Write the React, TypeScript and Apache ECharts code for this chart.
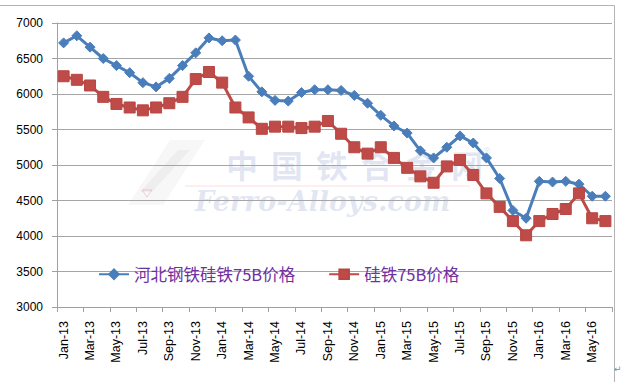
import React, { useEffect, useRef } from "react";
import * as echarts from "echarts";

const categories = [
  "Jan-13", "Feb-13", "Mar-13", "Apr-13", "May-13", "Jun-13", "Jul-13", "Aug-13", "Sep-13", "Oct-13", "Nov-13", "Dec-13",
  "Jan-14", "Feb-14", "Mar-14", "Apr-14", "May-14", "Jun-14", "Jul-14", "Aug-14", "Sep-14", "Oct-14", "Nov-14", "Dec-14",
  "Jan-15", "Feb-15", "Mar-15", "Apr-15", "May-15", "Jun-15", "Jul-15", "Aug-15", "Sep-15", "Oct-15", "Nov-15", "Dec-15",
  "Jan-16", "Feb-16", "Mar-16", "Apr-16", "May-16", "Jun-16",
];

const hebeiPrice = [
  6720, 6820, 6660, 6500, 6400, 6300, 6160, 6100, 6220, 6400, 6580, 6790,
  6750, 6760, 6250, 6030, 5910, 5900, 6020, 6060, 6060, 6050, 5980, 5870,
  5700, 5550, 5450, 5200, 5100, 5250, 5410, 5310, 5100, 4810, 4360, 4250,
  4770, 4760, 4770, 4730, 4560, 4560,
];

const siFePrice = [
  6250, 6200, 6120, 5960, 5860, 5810, 5770, 5810, 5870, 5960, 6210, 6310,
  6160, 5810, 5670, 5510, 5540, 5540, 5520, 5540, 5620, 5440, 5250, 5160,
  5250, 5100, 4960, 4840, 4750, 4980, 5070, 4860, 4600, 4410, 4210, 4010,
  4210, 4310, 4380, 4600, 4250, 4210,
];

const seriesNames = ["河北钢铁硅铁75B价格", "硅铁75B价格"];
const yMin = 3000;
const yMax = 7000;
const yInterval = 500;

const watermarkChars = ["中", "国", "铁", "合", "金", "网"];

export default function App() {
  const ref = useRef<HTMLDivElement>(null);

  useEffect(() => {
    if (!ref.current) return;
    const chart = echarts.init(ref.current, undefined, { renderer: "svg" });
    const wmColor = "rgba(120,145,200,0.22)";
    const graphics: any[] = [
      { type: "line", shape: { x1: 0, y1: 5.5, x2: 614.5, y2: 5.5 }, style: { stroke: "#b4b4b4", lineWidth: 1 }, z: -10 },
      { type: "line", shape: { x1: 614.5, y1: 5.5, x2: 614.5, y2: 382 }, style: { stroke: "#b4b4b4", lineWidth: 1 }, z: -10 },
      {
        type: "polygon",
        shape: { points: [[128, 205], [170, 140], [205, 140], [163, 205]] },
        style: { fill: "rgba(200,200,200,0.15)" },
        z: -5,
      },
      {
        type: "polygon",
        shape: { points: [[140, 192], [178, 150], [190, 150], [152, 192]] },
        style: { fill: "rgba(170,170,170,0.12)" },
        z: -5,
      },
      {
        type: "polygon",
        shape: { points: [[142, 190], [152, 190], [147, 197]] },
        style: { fill: "none", stroke: "rgba(220,120,120,0.3)", lineWidth: 1 },
        z: -5,
      },
      {
        type: "line",
        shape: { x1: 185, y1: 186, x2: 470, y2: 186 },
        style: { stroke: "rgba(230,140,140,0.28)", lineWidth: 1 },
        z: -5,
      },
      {
        type: "text",
        x: 195,
        y: 188,
        style: {
          text: "Ferro-Alloys.com",
          fill: wmColor,
          font: "italic bold 27px 'DejaVu Serif', serif",
        },
        z: -5,
      },
      {
        type: "text",
        x: 482,
        y: 146,
        style: { text: "®", fill: wmColor, font: "10px 'DejaVu Sans'" },
        z: -5,
      },
      {
        type: "text",
        x: 614,
        y: 364,
        style: { text: "↵", fill: "#888", font: "9px 'DejaVu Sans'" },
      },
    ];
    watermarkChars.forEach((c, i) => {
      graphics.push({
        type: "text",
        x: 226 + i * 45,
        y: 148,
        style: { text: c, fill: wmColor, font: "bold 32px 'Noto Sans CJK SC'" },
        z: -5,
      });
    });

    chart.setOption({
      animation: false,
      backgroundColor: "#ffffff",
      grid: { left: 57, right: 13, top: 23, bottom: 80, containLabel: false },
      legend: {
        left: 93,
        top: 261,
        itemWidth: 30,
        itemHeight: 12,
        itemGap: 33,
        textStyle: {
          color: "#7030A0",
          fontSize: 16.5,
          fontFamily: "'Noto Sans CJK SC', 'Liberation Sans', sans-serif",
        },
        data: seriesNames,
      },
      xAxis: {
        type: "category",
        data: categories,
        boundaryGap: true,
        axisLine: { lineStyle: { color: "#a0a0a0", width: 1 } },
        axisTick: { show: true, interval: 1, length: 5, lineStyle: { color: "#a0a0a0" } },
        axisLabel: {
          interval: 1,
          rotate: 90,
          margin: 14,
          color: "#000",
          fontSize: 12.5,
          fontFamily: "'Liberation Sans', Arial, sans-serif",
        },
        splitLine: { show: false },
      },
      yAxis: {
        type: "value",
        min: yMin,
        max: yMax,
        interval: yInterval,
        axisLine: { show: true, lineStyle: { color: "#a0a0a0", width: 1 } },
        axisTick: { show: true, length: 5, lineStyle: { color: "#a0a0a0" } },
        axisLabel: {
          margin: 14,
          color: "#000",
          fontSize: 12,
          fontFamily: "'Liberation Sans', Arial, sans-serif",
          formatter: (v: number) => String(v),
        },
        splitLine: { show: true, lineStyle: { color: "#a6a6a6", width: 1 } },
      },
      graphic: graphics,
      series: [
        {
          name: seriesNames[0],
          type: "line",
          data: hebeiPrice,
          symbol: "diamond",
          symbolSize: 10,
          showSymbol: true,
          showAllSymbol: true,
          lineStyle: { color: "#4A7EBB", width: 3 },
          itemStyle: { color: "#4A7EBB", borderColor: "#4A7EBB", borderWidth: 1 },
          z: 3,
        },
        {
          name: seriesNames[1],
          type: "line",
          data: siFePrice,
          symbol: "rect",
          symbolSize: 11,
          showSymbol: true,
          showAllSymbol: true,
          lineStyle: { color: "#BE4B48", width: 3 },
          itemStyle: { color: "#BE4B48", borderColor: "#B84643", borderWidth: 1 },
          z: 4,
        },
      ],
    });
    return () => chart.dispose();
  }, []);

  return (
    <div
      ref={ref}
      style={{ position: "absolute", left: 0, top: 0, width: 625, height: 387 }}
    />
  );
}
